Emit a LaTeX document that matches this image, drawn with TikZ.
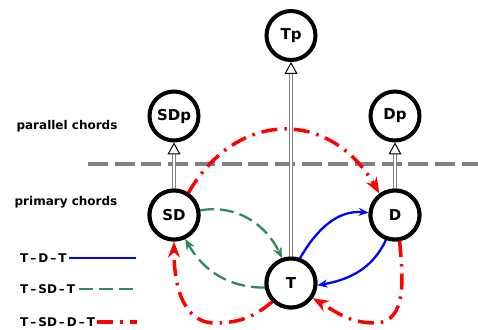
\documentclass[tikz,border=0pt]{standalone}
\usepackage{fontspec}
\setmainfont{DejaVu Sans}
\usetikzlibrary{arrows.meta}
\definecolor{tgreen}{RGB}{46,139,87}
\definecolor{tblue}{RGB}{0,0,255}
\definecolor{tred}{RGB}{255,0,0}
\begin{document}
\begin{tikzpicture}[x=1pt,y=1pt,
  chord/.style={circle,draw=black,fill=white,line width=4pt,minimum size=49pt,inner sep=0pt,font=\fontsize{15}{18}\selectfont\bfseries},
  lab/.style={font=\fontsize{12}{14}\selectfont\bfseries,inner sep=0pt},
  shaft/.style={draw=gray,line width=0.9pt,double=white,double distance=2.4pt,shorten >=11pt},
  tiphead/.style={draw=white,line width=0.1pt,-{Triangle[length=12pt,width=13pt,fill=white,color=black,line width=1pt]}},
  tdt/.style={draw=tblue,line width=2.3pt,-{Stealth[length=10pt,width=8pt]}},
  tsdt/.style={draw=tgreen,line width=2.3pt,dash pattern=on 14pt off 6pt,-{Stealth[length=11pt,width=9pt]}},
  tsddt/.style={draw=tred,line width=3.5pt,dash pattern=on 16pt off 7pt on 2.5pt off 7pt,-{Stealth[length=16pt,width=12pt]}},
  sep/.style={draw=gray,line width=3.5pt,dash pattern=on 20pt off 6.7pt}
]
\useasboundingbox (0,0) rectangle (478,329);
% separator
\coordinate (s1) at (88,165);
\coordinate (s2) at (478,165);
\draw[sep] (s1) -- (s2);
% nodes
\node[chord] (Tp) at (291,293.5) {Tp};
\node[chord] (SDp) at (174,213) {SDp};
\node[chord] (Dp) at (395,213) {Dp};
\node[chord] (SD) at (174,114) {SD};
\node[chord] (D) at (395,114) {D};
\node[chord] (T) at (291,46) {T};
% parallel relations
\draw[shaft] (SD.north) -- (SDp.south);
\draw[tiphead] (SD.north) -- (SDp.south);
\draw[shaft] (T.north) -- (Tp.south);
\draw[tiphead] (T.north) -- (Tp.south);
\draw[shaft] (D.north) -- (Dp.south);
\draw[tiphead] (D.north) -- (Dp.south);
% T-D-T
\draw[tdt] (T.70) to[out=60,in=175] (D.175);
\draw[tdt] (D.-110) to[out=-115,in=10] (T.-5);
% T-SD-T
\draw[tsdt] (SD.10) to[out=10,in=115] (T.110);
\draw[tsdt] (T.190) to[out=180,in=-60] (SD.-65);
% T-SD-D-T
\coordinate (b1) at (375,6);
\coordinate (b2) at (215,6);
\draw[tsddt] (SD.57) to[out=60,in=120,looseness=1.3] (D.126);
\draw[tsddt] (D.-80) to[out=-85,in=0] (b1) to[out=180,in=-30] (T.-35);
\draw[tsddt] (T.-135) to[out=-140,in=0] (b2) to[out=180,in=-90] (SD.south);
% nodes redrawn on top
\node[chord] at (SD) {SD};
\node[chord] at (D) {D};
\node[chord] at (T) {T};
% labels
\node[lab] (pc) at (67,203) {parallel chords};
\node[lab] (prc) at (66,127) {primary chords};
% legend
\node[lab,anchor=west] (l1) at (20,71) {T\,–\,D\,–\,T};
\node[lab,anchor=west] (l2) at (20,40) {T\,–\,SD\,–\,T};
\node[lab,anchor=west] (l3) at (20,7) {T\,–\,SD\,–\,D\,–\,T};
\coordinate (e1) at (136,71);
\coordinate (e2) at (135,40);
\coordinate (e3) at (137,7);
\draw[draw=tblue,line width=2.3pt] (l1.east) ++(2pt,0) -- (e1);
\draw[draw=tgreen,line width=2.3pt,dash pattern=on 14pt off 6pt] (79,40) -- (e2);
\draw[draw=tred,line width=3.5pt,dash pattern=on 16pt off 7pt on 2.5pt off 7pt] (97,7) -- (e3);
\end{tikzpicture}
\end{document}
